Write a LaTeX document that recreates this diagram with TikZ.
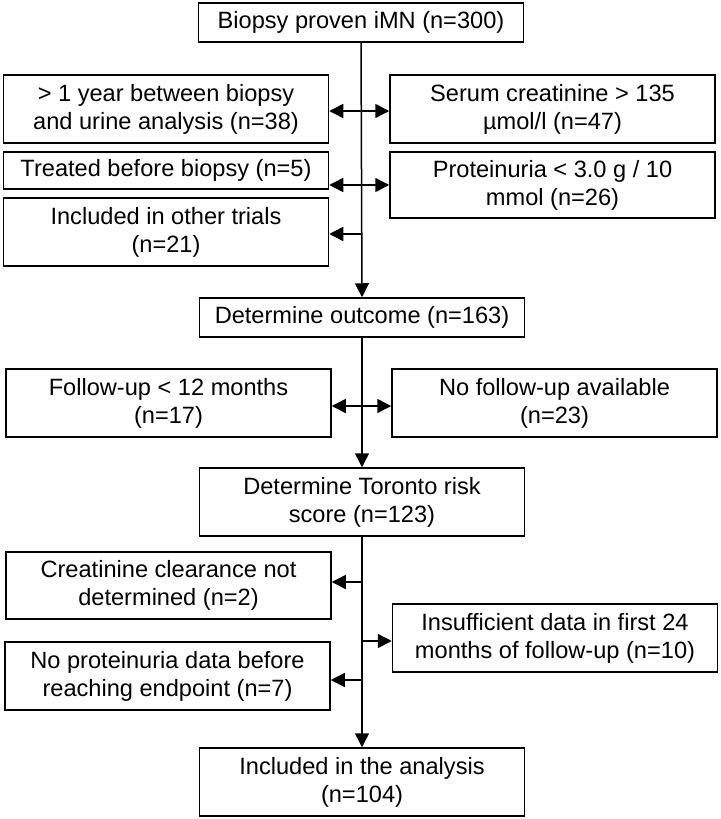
\documentclass[tikz,border=0pt]{standalone}
\usepackage{fontspec}
\setmainfont{Liberation Sans}
\usetikzlibrary{arrows.meta}
\tikzset{
  box/.style={draw, line width=0.75pt, inner sep=0pt, align=center,
    font=\fontsize{11.8pt}{14pt}\selectfont, minimum width=162.5pt},
  onel/.style={minimum height=19.5pt},
  twol/.style={minimum height=34pt},
  conn/.style={line width=0.75pt, -{Triangle[length=7pt,width=7pt]}},
  dconn/.style={line width=0.75pt, {Triangle[length=7pt,width=7pt]}-{Triangle[length=7pt,width=7pt]}},
  plain/.style={line width=0.75pt}
}
\begin{document}
\begin{tikzpicture}[x=0.5pt,y=-0.5pt]
\fill[white] (0,0) rectangle (720,819);
\useasboundingbox (0,0) rectangle (720,819);

\node[box,onel] (top) at (361,22.5) {Biopsy proven iMN (n=300)};
\node[box,twol] (yr) at (166,109) {> 1 year between biopsy\\and urine analysis (n=38)};
\node[box,twol] (serum) at (552.5,109) {Serum creatinine > 135\\µmol/l (n=47)};
\node[box,minimum height=18.5pt] (treated) at (166,170.5) {Treated before biopsy (n=5)};
\node[box,minimum height=33pt] (prot) at (552.5,185) {Proteinuria < 3.0 g / 10\\mmol (n=26)};
\node[box,twol] (other) at (166,232) {Included in other trials\\(n=21)};
\node[box,onel] (outcome) at (362,317.5) {Determine outcome (n=163)};
\node[box,twol] (fu) at (168.5,403) {Follow-up < 12 months\\(n=17)};
\node[box,twol] (nofu) at (554.5,403) {No follow-up available\\(n=23)};
\node[box,twol] (toronto) at (362,502) {Determine Toronto risk\\score (n=123)};
\node[box,minimum height=33.5pt] (creat) at (168.5,585.5) {Creatinine clearance not\\determined (n=2)};
\node[box,twol] (insuff) at (555,638) {Insufficient data in first 24\\months of follow-up (n=10)};
\node[box,twol] (noprot) at (167.5,676) {No proteinuria data before\\reaching endpoint (n=7)};
\node[box,twol] (final) at (362,782) {Included in the analysis\\(n=104)};

% spine
\draw[conn] (top.south) -- (outcome.north);
\draw[conn] (outcome.south) -- (toronto.north);
\draw[conn] (toronto.south) -- (final.north);

% side arrows
\coordinate (s1) at (362,111);
\draw[dconn] (yr.east |- s1) -- (serum.west |- s1);
\draw[dconn] (treated.east |- prot.west) -- (prot.west);
\coordinate (s3) at (362,234);
\draw[conn] (s3) -- (other.east |- s3);
\coordinate (s4) at (362,406);
\draw[dconn] (fu.east |- s4) -- (nofu.west |- s4);
\coordinate (s5) at (362,582);
\draw[conn] (s5) -- (creat.east |- s5);
\coordinate (s6) at (362,641);
\draw[conn] (s6) -- (insuff.west |- s6);
\coordinate (s7) at (362,680);
\draw[conn] (s7) -- (noprot.east |- s7);
\end{tikzpicture}
\end{document}
